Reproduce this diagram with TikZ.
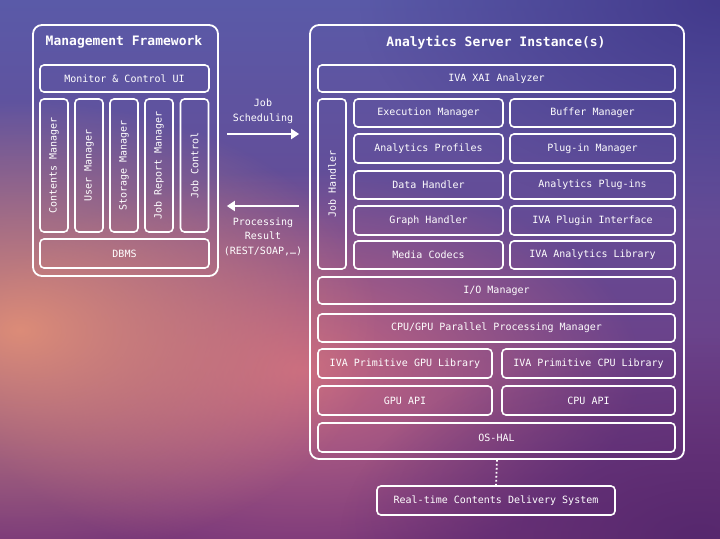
\documentclass[tikz,border=0pt]{standalone}
\usepackage{fontspec}
\setmonofont{DejaVu Sans Mono}
\usetikzlibrary{arrows.meta,positioning,fadings}
\definecolor{bgtop}{HTML}{5A5AA8}
\definecolor{bgmid}{HTML}{B86C8A}
\definecolor{bgbot}{HTML}{74357A}
\definecolor{bgglow}{HTML}{DC8C78}
\definecolor{bgpink}{HTML}{C86882}
\definecolor{bgdeep}{HTML}{56286E}
\definecolor{bgnight}{HTML}{433A8C}
\tikzfading[name=glow, inner color=transparent!0, outer color=transparent!100]

\begin{document}
\begin{tikzpicture}[x=1pt, y=-1pt,
  font=\ttfamily\fontsize{10}{12}\selectfont, text=white,
  box/.style={draw=white, line width=1.6pt, rounded corners=4pt, inner sep=0pt, align=center},
  vbox/.style={box, rotate=90, minimum width=133pt, minimum height=28pt},
  frame/.style={draw=white, line width=1.8pt, rounded corners=9pt, inner sep=0pt},
  title/.style={font=\ttfamily\bfseries\fontsize{13}{15}\selectfont},
  note/.style={align=center, font=\ttfamily\fontsize{10}{14.5}\selectfont},
  arr/.style={-{Triangle[length=8pt,width=10pt]}, white, line width=2.2pt}
]
\useasboundingbox (0,0) rectangle (720,538);
% background
\begin{scope}
\clip (0,0) rectangle (720,538);
\shade[top color=bgtop, middle color=bgmid, bottom color=bgbot] (0,0) rectangle (720,538);
\fill[bgnight, path fading=glow] (720,0) ellipse (360 and 220);
\fill[bgpink, path fading=glow] (300,370) ellipse (340 and 200);
\fill[bgglow, path fading=glow] (20,330) ellipse (360 and 230);
\fill[bgdeep, path fading=glow] (700,538) ellipse (360 and 200);
\end{scope}

% management framework
\node[frame, minimum width=185pt, minimum height=251pt] (mgmt) at (125.5,150.5) {};
\node[title] (mgmttl) at (124,42) {Management Framework};
\node[box, minimum width=169pt, minimum height=27pt] (mcui) at (124.5,78.5) {Monitor \& Control UI};
\node[vbox] (cnt) at (54,165.5) {Contents Manager};
\node[vbox] (usr) at (89,165.5) {User Manager};
\node[vbox] (sto) at (124,165.5) {Storage Manager};
\node[vbox] (jrm) at (159,165.5) {Job Report Manager};
\node[vbox] (jct) at (194.5,165.5) {Job Control};
\node[box, minimum width=169pt, minimum height=29pt] (dbms) at (124.5,253.5) {DBMS};

% analytics server
\node[frame, minimum width=374pt, minimum height=434pt] (srv) at (497,242) {};
\node[title] (srvtl) at (496,43) {Analytics Server Instance(s)};
\node[box, minimum width=357pt, minimum height=27pt] (xai) at (496.5,78.5) {IVA XAI Analyzer};
\node[box, rotate=90, minimum width=170pt, minimum height=28pt] (jh) at (332,184) {Job Handler};

\node[box, minimum width=149pt, minimum height=28pt] (exe) at (428.5,113) {Execution Manager};
\node[box, minimum width=165pt, minimum height=28pt] (buf) at (592.5,113) {Buffer Manager};
\node[box, minimum width=149pt, minimum height=29pt] (apf) at (428.5,148.5) {Analytics Profiles};
\node[box, minimum width=165pt, minimum height=29pt] (plm) at (592.5,148.5) {Plug-in Manager};
\node[box, minimum width=149pt, minimum height=28pt] (dat) at (428.5,185) {Data Handler};
\node[box, minimum width=165pt, minimum height=28pt] (apl) at (592.5,185) {Analytics Plug-ins};
\node[box, minimum width=149pt, minimum height=29pt] (grh) at (428.5,220.5) {Graph Handler};
\node[box, minimum width=165pt, minimum height=29pt] (ipi) at (592.5,220.5) {IVA Plugin Interface};
\node[box, minimum width=149pt, minimum height=28pt] (mcd) at (428.5,255) {Media Codecs};
\node[box, minimum width=165pt, minimum height=28pt] (ial) at (592.5,255) {IVA Analytics Library};

\node[box, minimum width=357pt, minimum height=27pt] (iom) at (496.5,290.5) {I/O Manager};
\node[box, minimum width=357pt, minimum height=28pt] (ppm) at (496.5,328) {CPU/GPU Parallel Processing Manager};
\node[box, minimum width=174pt, minimum height=29pt] (pgl) at (405,363.5) {IVA Primitive GPU Library};
\node[box, minimum width=173pt, minimum height=29pt] (pcl) at (588.5,363.5) {IVA Primitive CPU Library};
\node[box, minimum width=174pt, minimum height=29pt] (gapi) at (405,400.5) {GPU API};
\node[box, minimum width=173pt, minimum height=29pt] (capi) at (588.5,400.5) {CPU API};
\node[box, minimum width=357pt, minimum height=29pt] (hal) at (496.5,437.5) {OS-HAL};

\node[box, minimum width=238pt, minimum height=29pt] (rtc) at (496,500.5) {Real-time Contents Delivery System};
\draw[white, line width=1.8pt, dash pattern=on 1.8pt off 2.2pt] (srv.south) -- (rtc.north);

% exchange
\node[note] (sched) at (263,111.5) {Job\\Scheduling};
\node[note] (result) at (263,236.5) {Processing\\Result\\(REST/SOAP,…)};
\draw[arr] ([xshift=8pt]mgmt.east |- 0,134) -- ([xshift=-10pt]srv.west |- 0,134);
\draw[arr] ([xshift=-10pt]srv.west |- 0,206) -- ([xshift=8pt]mgmt.east |- 0,206);
\end{tikzpicture}
\end{document}
